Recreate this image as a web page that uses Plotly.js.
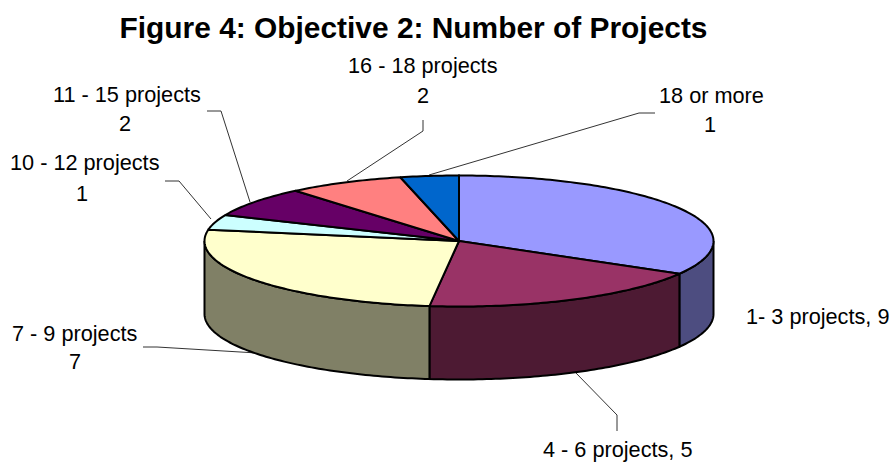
<!DOCTYPE html>
<html>
<head>
<meta charset="utf-8">
<script src="https://cdn.plot.ly/plotly-3.0.1.min.js"></script>
<style>html,body{margin:0;padding:0;background:#fff}#chart{width:890px;height:464px}</style>
</head>
<body>
<div id="chart"></div>
<script>
// Data
const categories = ['1- 3 projects','4 - 6 projects','7 - 9 projects','10 - 12 projects','11 - 15 projects','16 - 18 projects','18 or more'];
const values = [9,5,7,1,2,2,1];

// Styles
const topColors  = ['#9999FF','#993366','#FFFFCC','#CCFFFF','#660066','#FF8080','#0066CC'];
const sideColors = ['#4D4D80','#4D1A33','#808066','#668080','#330033','#804040','#003366'];

// Layout of the picture
const W = 890, H = 464;
const cx = 459, cy = 241, rx = 254.5, ry = 65.5, depthPx = 73;
const depth = depthPx / ry;
// [line-1 x, line-1 y, line-2 x, line-2 y]; a single-line label leaves line 2 null
const labelPos = [
  [817,316,null,null],
  [617,449,null,null],
  [75,333,75,361],
  [85,163,82,193],
  [127,94,125,123],
  [422.5,65,423,95],
  [711,95,710,125]
];
const leaders = [
  null,
  [[617,431],[617,415],[575,372]],
  [[143,347],[157,347],[257,353]],
  [[165,181],[179,181],[211,219]],
  [[207,111],[221,111],[250,202]],
  [[423,120],[423,131],[347,181]],
  [[655,113],[639,113],[429,175]]
];

const px = x => x / W, py = y => 1 - y / H;
const rad = d => d * Math.PI / 180;
const total = values.reduce((a,b)=>a+b,0);

function arc(a0, a1, yOff) {
  const n = Math.max(2, Math.ceil(Math.abs(a1-a0)));
  const xs = [], ys = [];
  for (let i = 0; i <= n; i++) {
    const a = rad(a0 + (a1-a0)*i/n);
    xs.push(Math.sin(a));
    ys.push(Math.cos(a) - yOff);
  }
  return [xs, ys];
}

const traces = [], sectors = [];
let acc = 0;
values.forEach((v,i) => {
  const a0 = acc / total * 360;
  acc += v;
  sectors.push([a0, acc / total * 360, i]);
});

// side walls: only the front half of the rim is visible
sectors.forEach(([a0,a1,i]) => {
  const s = Math.max(a0, 90), e = Math.min(a1, 270);
  if (e <= s) return;
  const [x1,y1] = arc(s, e, 0);
  const [x2,y2] = arc(e, s, depth);
  traces.push({
    type:'scatter', mode:'lines', x:x1.concat(x2, [x1[0]]), y:y1.concat(y2, [y1[0]]),
    fill:'toself', fillcolor:sideColors[i], line:{color:'#000',width:2,simplify:false},
    hoverinfo:'skip', showlegend:false
  });
});
// top faces
sectors.forEach(([a0,a1,i]) => {
  const [x1,y1] = arc(a0, a1, 0);
  traces.push({
    type:'scatter', mode:'lines', x:[0].concat(x1,[0]), y:[0].concat(y1,[0]),
    fill:'toself', fillcolor:topColors[i], line:{color:'#000',width:2,simplify:false},
    name:categories[i], text:categories[i]+': '+values[i], hoverinfo:'text', showlegend:false
  });
});

const font = {family:'"Liberation Sans", Arial, sans-serif', size:21.7, color:'#000'};
const annotations = [];
categories.forEach((c,i) => {
  const p = labelPos[i];
  const one = (text,x,y) => annotations.push({
    xref:'paper', yref:'paper', x:px(x), y:py(y), xanchor:'center', yanchor:'middle',
    text, showarrow:false, font
  });
  if (p[2] === null) one(c + ', ' + values[i], p[0], p[1]);
  else { one(c, p[0], p[1]); one(String(values[i]), p[2], p[3]); }
});

const shapes = leaders.filter(Boolean).map(pts => ({
  type:'path', xref:'paper', yref:'paper', layer:'below',
  path: pts.map((q,j) => (j?'L':'M') + px(q[0]) + ',' + py(q[1])).join(' '),
  line:{color:'#333',width:1}
}));

const layout = {
  width:W, height:H, margin:{l:0,r:0,t:0,b:0},
  paper_bgcolor:'#fff', plot_bgcolor:'#fff', showlegend:false,
  title:{text:'Figure 4: Objective 2: Number of Projects', x:413.5/W, xanchor:'center', y:py(28), yanchor:'middle',
         font:{family:'"Liberation Sans", Arial, sans-serif', size:29.9, color:'#000', weight:700}},
  xaxis:{range:[(0-cx)/rx,(W-cx)/rx], visible:false, fixedrange:true},
  yaxis:{range:[(cy-H)/ry,(cy-0)/ry], visible:false, fixedrange:true},
  annotations, shapes
};
Plotly.newPlot('chart', traces, layout, {displayModeBar:false, staticPlot:true});
</script>
</body>
</html>
